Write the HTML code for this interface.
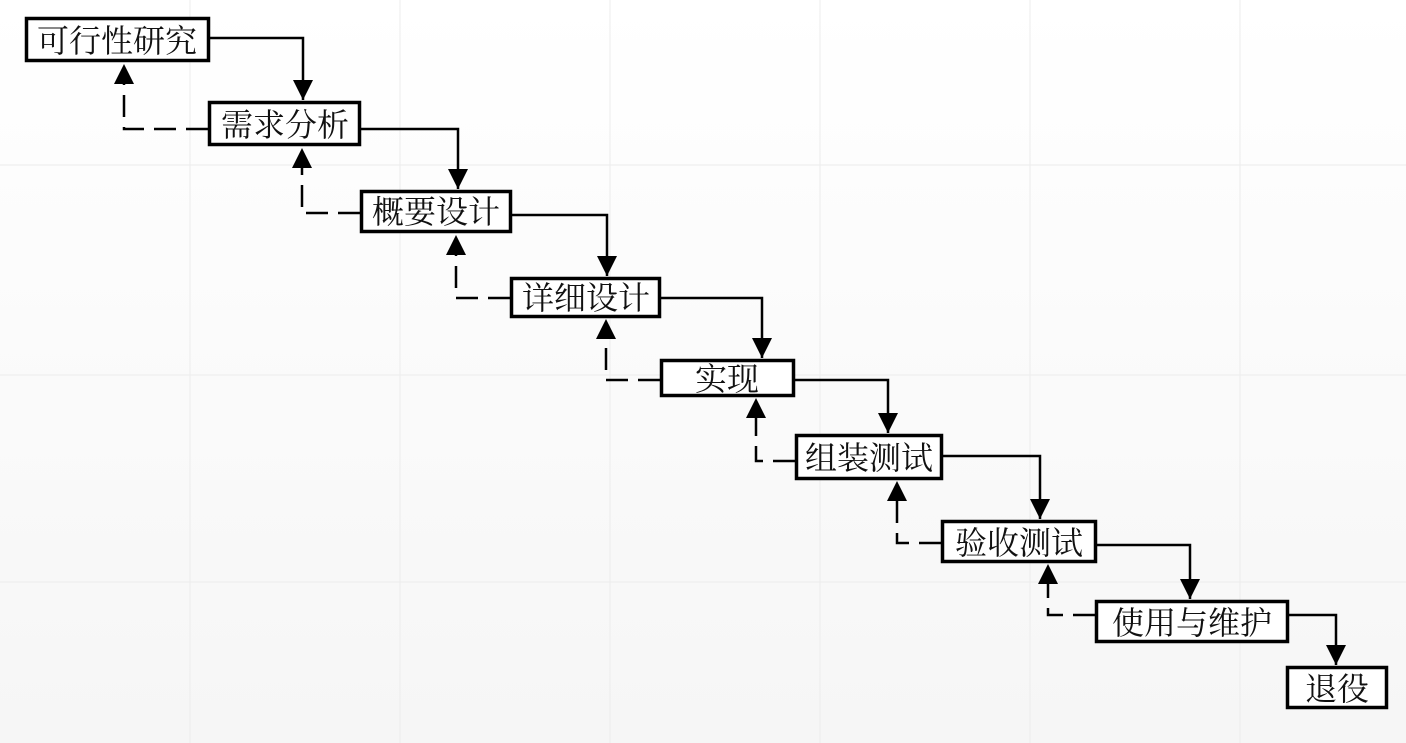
<!DOCTYPE html>
<html><head><meta charset="utf-8"><style>
body{margin:0;width:1406px;height:743px;overflow:hidden;background:linear-gradient(#ffffff,#f6f6f6);}
svg{position:absolute;left:0;top:0}
text{font-family:"Liberation Serif","Noto Serif CJK SC","Noto Sans CJK SC",serif;font-size:32px;fill:#111}
</style></head><body>
<svg width="1406" height="743" xmlns="http://www.w3.org/2000/svg">
<g stroke="#ececec" stroke-width="1">
<line x1="190" y1="0" x2="190" y2="743"/><line x1="400" y1="0" x2="400" y2="743"/><line x1="610" y1="0" x2="610" y2="743"/><line x1="820" y1="0" x2="820" y2="743"/><line x1="1030" y1="0" x2="1030" y2="743"/><line x1="1240" y1="0" x2="1240" y2="743"/>
<line x1="0" y1="165" x2="1406" y2="165"/><line x1="0" y1="375" x2="1406" y2="375"/><line x1="0" y1="582" x2="1406" y2="582"/>
</g>
<g fill="none" stroke="#000" stroke-width="2.5">
<path d="M210,38 H303 V100"/><path d="M361,129 H458 V189"/><path d="M512,215 H607 V276"/><path d="M661,298 H762 V358"/><path d="M795,380 H888 V433"/><path d="M943,456 H1040 V519"/><path d="M1097,545 H1190 V599"/><path d="M1289,615 H1336 V665"/>
</g>
<g fill="#000">
<path d="M293,80 L313,80 L303,100z"/><path d="M448,169 L468,169 L458,189z"/><path d="M597,256 L617,256 L607,276z"/><path d="M752,338 L772,338 L762,358z"/><path d="M878,413 L898,413 L888,433z"/><path d="M1030,499 L1050,499 L1040,519z"/><path d="M1180,579 L1200,579 L1190,599z"/><path d="M1326,645 L1346,645 L1336,665z"/>
</g>
<g fill="none" stroke="#000" stroke-width="2.5" stroke-dasharray="22,10">
<path d="M208,129 H124 V84"/><path d="M360,213 H302 V168"/><path d="M510,298 H456 V255"/><path d="M660,380 H606 V339"/><path d="M795,461 H756 V418"/><path d="M941,543 H897 V501"/><path d="M1095,615 H1048 V584"/>
</g>
<g fill="#000">
<path d="M114,84 L134,84 L124,64z"/><path d="M292,168 L312,168 L302,148z"/><path d="M446,255 L466,255 L456,235z"/><path d="M596,339 L616,339 L606,319z"/><path d="M746,418 L766,418 L756,398z"/><path d="M887,501 L907,501 L897,481z"/><path d="M1038,584 L1058,584 L1048,564z"/>
</g>
<g fill="#fff" stroke="#000" stroke-width="3.5">
<rect x="26.5" y="18.5" width="182" height="42"/>
<rect x="209.5" y="102.5" width="150" height="42"/>
<rect x="361.5" y="191.5" width="149" height="40"/>
<rect x="511.5" y="278.5" width="148" height="38"/>
<rect x="661.5" y="360.5" width="132" height="35"/>
<rect x="796.5" y="435.5" width="145" height="43"/>
<rect x="942.5" y="521.5" width="153" height="40"/>
<rect x="1096.5" y="601.5" width="191" height="40"/>
<rect x="1287.5" y="667.5" width="99" height="40"/>
</g>
<g text-anchor="middle">
<text x="117" y="52">可行性研究</text>
<text x="285" y="136">需求分析</text>
<text x="436" y="223">概要设计</text>
<text x="586" y="309">详细设计</text>
<text x="727" y="390">实现</text>
<text x="869" y="469">组装测试</text>
<text x="1019" y="554">验收测试</text>
<text x="1192" y="634">使用与维护</text>
<text x="1337" y="700">退役</text>
</g>
</svg>
</body></html>
